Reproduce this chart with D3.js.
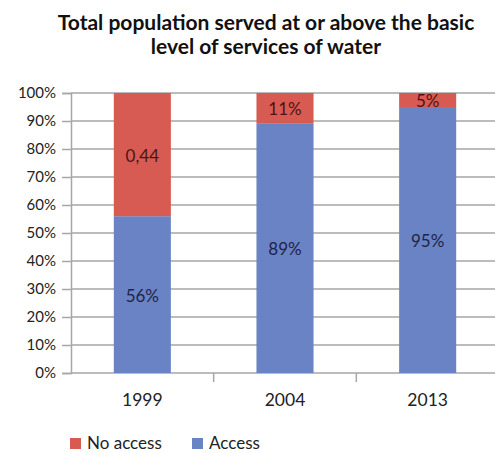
<!DOCTYPE html>
<html><head><meta charset="utf-8">
<script src="https://cdn.jsdelivr.net/npm/d3@7"></script>
<style>
body{margin:0;background:#fff;}
svg{display:block;font-family:Lato, "Open Sans", sans-serif;}
</style></head>
<body>
<svg id="chart" width="495" height="453"></svg>
<script>
const categories = ["1999", "2004", "2013"];
const access = [0.56, 0.89, 0.95];
const noAccess = [0.44, 0.11, 0.05];
const accessLabels = ["56%", "89%", "95%"];
const noAccessLabels = ["0,44", "11%", "5%"];
const yTicks = [0, 0.1, 0.2, 0.3, 0.4, 0.5, 0.6, 0.7, 0.8, 0.9, 1.0];
const titleLines = ["Total population served at or above the basic", "level of services of water"];
const seriesNames = ["No access", "Access"];
const colors = {"Access": "#6a83c4", "No access": "#d75b53"};

const svg = d3.select("#chart");
const x = d3.scaleBand().domain(categories).range([71, 499]).paddingInner(0.6).paddingOuter(0.3);
const y = d3.scaleLinear().domain([0, 1]).range([373, 93]);

// title
svg.append("g").selectAll("text").data(titleLines).join("text")
  .attr("x", 266).attr("y", (d, i) => 30 + i * 24)
  .attr("text-anchor", "middle").attr("font-weight", "bold").attr("font-size", 21)
  .attr("fill", "#111").text(d => d);

// gridlines
svg.append("g").selectAll("line").data(yTicks.slice(1)).join("line")
  .attr("x1", 71).attr("x2", 495).attr("y1", d => y(d)).attr("y2", d => y(d))
  .attr("stroke", "#a6a6a6").attr("stroke-width", 1.5);

// y axis
const yAxis = svg.append("g").attr("transform", "translate(71,0)")
  .call(d3.axisLeft(y).tickValues(yTicks).tickFormat(d3.format(".0%")).tickSize(9).tickPadding(6));
yAxis.select(".domain").attr("stroke", "#a6a6a6").attr("stroke-width", 1.5);
yAxis.selectAll(".tick line").attr("stroke", "#a6a6a6").attr("stroke-width", 1.5);
yAxis.selectAll(".tick text").attr("font-size", 15).attr("fill", "#222").attr("font-family", "Lato, sans-serif");

// x axis
const xAxis = svg.append("g").attr("transform", "translate(0,373)");
xAxis.append("line").attr("x1", 71).attr("x2", 495).attr("stroke", "#a6a6a6").attr("stroke-width", 1.5);
const step = x.step();
xAxis.selectAll("line.tk").data(categories.slice(1)).join("line").attr("class", "tk")
  .attr("x1", d => x(d) + x.bandwidth() / 2 - step / 2).attr("x2", d => x(d) + x.bandwidth() / 2 - step / 2)
  .attr("y1", 0).attr("y2", 9).attr("stroke", "#a6a6a6").attr("stroke-width", 1.5);
xAxis.selectAll("text").data(categories).join("text")
  .attr("x", d => x(d) + x.bandwidth() / 2).attr("y", 33)
  .attr("text-anchor", "middle").attr("font-size", 17.5).attr("fill", "#222").text(d => d);

// stacked bars
const rows = categories.map((c, i) => ({cat: c, "Access": access[i], "No access": noAccess[i]}));
const stack = d3.stack().keys(["Access", "No access"])(rows);
const labels = {"Access": accessLabels, "No access": noAccessLabels};
const labelColors = {"Access": "#1c2547", "No access": "#4f1411"};
stack.forEach(layer => {
  const g = svg.append("g");
  g.selectAll("rect").data(layer).join("rect")
    .attr("x", d => x(d.data.cat)).attr("width", x.bandwidth())
    .attr("y", d => y(Math.min(d[1], 1))).attr("height", d => y(d[0]) - y(Math.min(d[1], 1)))
    .attr("fill", colors[layer.key]);
  g.selectAll("text").data(layer).join("text")
    .attr("x", d => x(d.data.cat) + x.bandwidth() / 2)
    .attr("y", d => (y(d[0]) + y(Math.min(d[1], 1))) / 2 + 7)
    .attr("text-anchor", "middle").attr("font-size", 17).attr("fill", labelColors[layer.key])
    .text((d, i) => labels[layer.key][i]);
});

// legend
const leg = svg.append("g");
const legX = [70, 192];
seriesNames.forEach((s, i) => {
  leg.append("rect").attr("x", legX[i]).attr("y", 438).attr("width", 11).attr("height", 11).attr("fill", colors[s]);
  leg.append("text").attr("x", legX[i] + 17).attr("y", 449).attr("font-size", 17).attr("fill", "#222").text(s);
});
</script>
</body></html>
